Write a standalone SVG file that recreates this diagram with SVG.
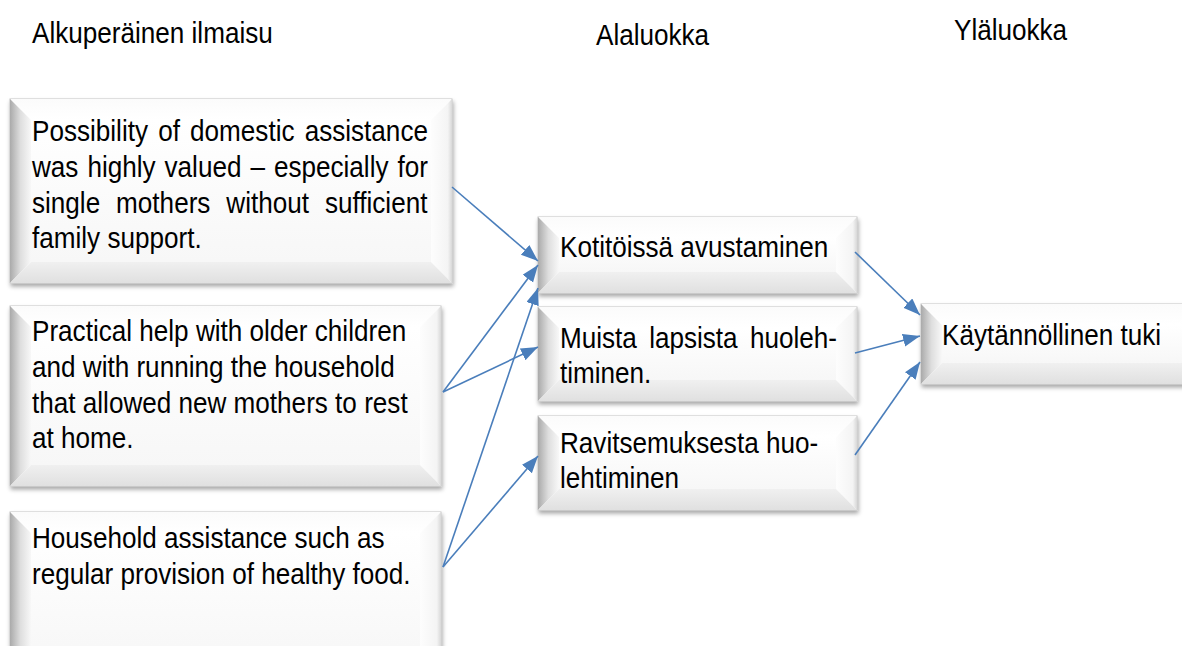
<svg xmlns="http://www.w3.org/2000/svg" width="1182" height="646" viewBox="0 0 1182 646">
<style>
.t{font-family:"Liberation Sans",Arial,sans-serif;font-size:30px;fill:#000}
.frame{fill:#fff;stroke:#c4c4c4;stroke-width:1;filter:url(#sh)}
.bl{fill:url(#gLeft)}
.bt{fill:url(#gTop)}
.br{fill:url(#gRight)}
.bb{fill:url(#gBot)}
.face{fill:url(#gFace)}
.c{stroke:#4a7ebb;stroke-width:1.6;fill:none;marker-end:url(#ah)}
</style>
<defs>
<filter id="sh" x="-5%" y="-10%" width="112%" height="125%">
<feDropShadow dx="1" dy="3" stdDeviation="2" flood-color="#000" flood-opacity="0.35"/>
</filter>
<linearGradient id="gLeft" x1="0" y1="0" x2="1" y2="0">
<stop offset="0" stop-color="#aaaaaa"/><stop offset="0.5" stop-color="#dedede"/><stop offset="1" stop-color="#f8f8f8"/>
</linearGradient>
<linearGradient id="gTop" x1="0" y1="0" x2="0" y2="1">
<stop offset="0" stop-color="#fbfbfb"/><stop offset="1" stop-color="#ffffff"/>
</linearGradient>
<linearGradient id="gRight" x1="0" y1="0" x2="1" y2="0">
<stop offset="0" stop-color="#fdfdfd"/><stop offset="0.8" stop-color="#f4f4f4"/><stop offset="1" stop-color="#d8d8d8"/>
</linearGradient>
<linearGradient id="gBot" x1="0" y1="0" x2="0" y2="1">
<stop offset="0" stop-color="#f0f0f0"/><stop offset="1" stop-color="#e0e0e0"/>
</linearGradient>
<linearGradient id="gFace" x1="0" y1="0" x2="0" y2="1">
<stop offset="0" stop-color="#ffffff"/><stop offset="1" stop-color="#f7f7f7"/>
</linearGradient>
<marker id="ah" markerUnits="userSpaceOnUse" markerWidth="18" markerHeight="14" refX="17" refY="6.5" orient="auto">
<path d="M0,0 L17,6.5 L0,13 z" fill="#4a7ebb"/>
</marker>
</defs>
<rect width="1182" height="646" fill="#fff"/>

<g id="headers">
<text class="t" transform="translate(32,43) scale(0.87,1)">Alkuperäinen ilmaisu</text>
<text class="t" transform="translate(596,45) scale(0.87,1)">Alaluokka</text>
<text class="t" transform="translate(954,40) scale(0.87,1)">Yläluokka</text>
</g>

<g id="box1">
<rect class="frame" x="10" y="99" width="442" height="184"/>
<polygon class="bt" points="10,99 452,99 431,120 31,120"/>
<polygon class="bl" points="10,99 31,120 31,262 10,283"/>
<polygon class="br" points="452,99 452,283 431,262 431,120"/>
<polygon class="bb" points="10,283 31,262 431,262 452,283"/>
<rect class="face" x="31" y="120" width="400" height="142"/>
<text class="t" word-spacing="3.35" transform="translate(32,141) scale(0.87,1)">Possibility of domestic assistance</text>
<text class="t" word-spacing="2" transform="translate(32,177) scale(0.87,1)">was highly valued – especially for</text>
<text class="t" word-spacing="10" transform="translate(32,213) scale(0.87,1)">single mothers without sufficient</text>
<text class="t" transform="translate(32,248) scale(0.87,1)">family support.</text>
</g>

<g id="box2">
<rect class="frame" x="10" y="306" width="431" height="180"/>
<polygon class="bt" points="10,306 441,306 420,327 31,327"/>
<polygon class="bl" points="10,306 31,327 31,465 10,486"/>
<polygon class="br" points="441,306 441,486 420,465 420,327"/>
<polygon class="bb" points="10,486 31,465 420,465 441,486"/>
<rect class="face" x="31" y="327" width="389" height="138"/>
<text class="t" transform="translate(32,341) scale(0.87,1)">Practical help with older children</text>
<text class="t" transform="translate(32,377) scale(0.87,1)">and with running the household</text>
<text class="t" transform="translate(32,413) scale(0.87,1)">that allowed new mothers to rest</text>
<text class="t" transform="translate(32,448) scale(0.87,1)">at home.</text>
</g>

<g id="box3">
<rect class="frame" x="10" y="512" width="431" height="170"/>
<polygon class="bt" points="10,512 441,512 420,533 31,533"/>
<polygon class="bl" points="10,512 31,533 31,661 10,682"/>
<polygon class="br" points="441,512 441,682 420,661 420,533"/>
<polygon class="bb" points="10,682 31,661 420,661 441,682"/>
<rect class="face" x="31" y="533" width="389" height="128"/>
<text class="t" transform="translate(32,548) scale(0.87,1)">Household assistance such as</text>
<text class="t" transform="translate(32,584) scale(0.87,1)">regular provision of healthy food.</text>
</g>

<g id="boxA">
<rect class="frame" x="538" y="217" width="319" height="76"/>
<polygon class="bt" points="538,217 857,217 836,238 559,238"/>
<polygon class="bl" points="538,217 559,238 559,272 538,293"/>
<polygon class="br" points="857,217 857,293 836,272 836,238"/>
<polygon class="bb" points="538,293 559,272 836,272 857,293"/>
<rect class="face" x="559" y="238" width="277" height="34"/>
<text class="t" transform="translate(560,257) scale(0.87,1)">Kotitöissä avustaminen</text>
</g>

<g id="boxB">
<rect class="frame" x="538" y="307" width="319" height="94"/>
<polygon class="bt" points="538,307 857,307 836,328 559,328"/>
<polygon class="bl" points="538,307 559,328 559,380 538,401"/>
<polygon class="br" points="857,307 857,401 836,380 836,328"/>
<polygon class="bb" points="538,401 559,380 836,380 857,401"/>
<rect class="face" x="559" y="328" width="277" height="52"/>
<text class="t" word-spacing="5.8" transform="translate(560,348) scale(0.87,1)">Muista lapsista huoleh-</text>
<text class="t" transform="translate(560,383) scale(0.87,1)">timinen.</text>
</g>

<g id="boxC">
<rect class="frame" x="538" y="416" width="319" height="94"/>
<polygon class="bt" points="538,416 857,416 836,437 559,437"/>
<polygon class="bl" points="538,416 559,437 559,489 538,510"/>
<polygon class="br" points="857,416 857,510 836,489 836,437"/>
<polygon class="bb" points="538,510 559,489 836,489 857,510"/>
<rect class="face" x="559" y="437" width="277" height="52"/>
<text class="t" transform="translate(560,453) scale(0.87,1)">Ravitsemuksesta huo-</text>
<text class="t" transform="translate(560,488) scale(0.87,1)">lehtiminen</text>
</g>

<g id="boxR">
<rect class="frame" x="921" y="304" width="290" height="80"/>
<polygon class="bt" points="921,304 1211,304 1190,325 942,325"/>
<polygon class="bl" points="921,304 942,325 942,363 921,384"/>
<polygon class="br" points="1211,304 1211,384 1190,363 1190,325"/>
<polygon class="bb" points="921,384 942,363 1190,363 1211,384"/>
<rect class="face" x="942" y="325" width="248" height="38"/>
<text class="t" transform="translate(942,345) scale(0.87,1)">Käytännöllinen tuki</text>
</g>

<g id="connectors">
<line class="c" x1="452" y1="187" x2="538" y2="261"/>
<line class="c" x1="443" y1="392" x2="538" y2="265"/>
<line class="c" x1="443" y1="392" x2="538" y2="347"/>
<line class="c" x1="443" y1="567" x2="538" y2="288"/>
<line class="c" x1="443" y1="567" x2="538" y2="456"/>
<line class="c" x1="855" y1="252" x2="920" y2="315"/>
<line class="c" x1="855" y1="353" x2="920" y2="336"/>
<line class="c" x1="855" y1="455" x2="920" y2="362"/>
</g>
</svg>
